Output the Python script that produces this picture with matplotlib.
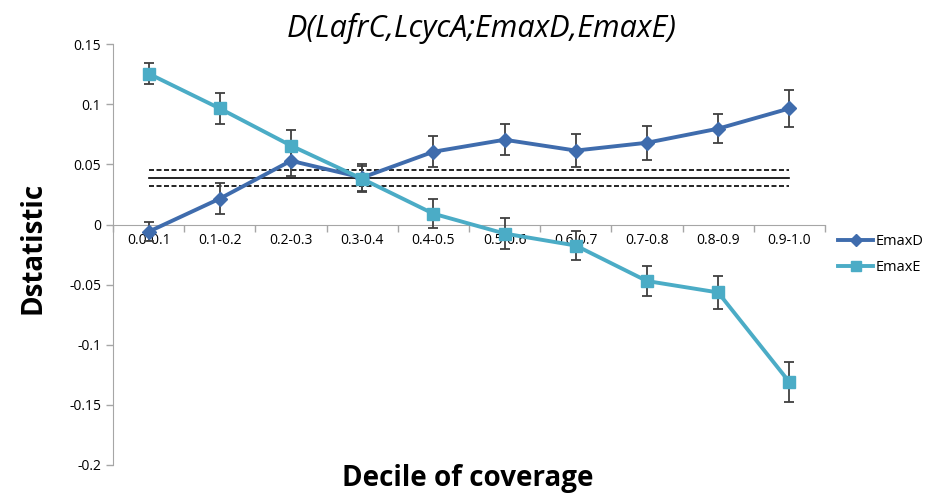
import matplotlib
matplotlib.use("Agg")
import matplotlib.pyplot as plt
from matplotlib.lines import Line2D
import numpy as np

categories = ["0.0-0.1", "0.1-0.2", "0.2-0.3", "0.3-0.4", "0.4-0.5",
              "0.5-0.6", "0.6-0.7", "0.7-0.8", "0.8-0.9", "0.9-1.0"]
emaxD = [-0.006, 0.0215, 0.053, 0.039, 0.0605, 0.0705, 0.0615, 0.068, 0.0797, 0.0965]
emaxD_err = [0.008, 0.013, 0.013, 0.011, 0.013, 0.013, 0.014, 0.014, 0.012, 0.015]
emaxE = [0.1255, 0.0965, 0.0656, 0.038, 0.009, -0.0075, -0.0175, -0.047, -0.0565, -0.131]
emaxE_err = [0.009, 0.013, 0.013, 0.011, 0.012, 0.013, 0.012, 0.0125, 0.014, 0.017]
ref_line = 0.039
ref_band = [0.0324, 0.0457]
yticks = [0.15, 0.1, 0.05, 0, -0.05, -0.1, -0.15, -0.2]
ytick_labels = ["0.15", "0.1", "0.05", "0", "-0.05", "-0.1", "-0.15", "-0.2"]

plt.rcParams['font.family'] = ['Open Sans', 'DejaVu Sans']

fig = plt.figure(figsize=(9.3, 4.96), dpi=100)
ax = fig.add_axes([0.1215, 0.0625, 0.7655, 0.8485])

x = np.arange(len(categories))
colD = '#3F6CAD'
colE = '#4BACC6'

ax.plot([x[0], x[-1]], [ref_line, ref_line], color='black', lw=1.2, zorder=1)
for v in ref_band:
    ax.plot([x[0], x[-1]], [v, v], color='black', lw=1.2, ls=(0, (3, 1.5)), zorder=1)

ax.errorbar(x, emaxD, yerr=emaxD_err, color=colD, lw=2.8, marker='D', ms=7,
            ecolor='#404040', elinewidth=1.3, capsize=3.5, capthick=1.3, zorder=3)
ax.errorbar(x, emaxE, yerr=emaxE_err, color=colE, lw=2.8, marker='s', ms=9,
            ecolor='#404040', elinewidth=1.3, capsize=3.5, capthick=1.3, zorder=3)

ax.set_xlim(-0.5, len(categories) - 0.5)
ax.set_ylim(-0.2, 0.15)
ax.set_yticks(yticks)
ax.set_yticklabels(ytick_labels, fontsize=10)

ax.spines['top'].set_visible(False)
ax.spines['right'].set_visible(False)
ax.spines['bottom'].set_position(('data', 0))
ax.spines['bottom'].set_color('#A6A6A6')
ax.spines['left'].set_color('#A6A6A6')
ax.tick_params(axis='y', colors='#A6A6A6', labelcolor='black', length=5, width=1)

ax.set_xticks(x)
ax.set_xticklabels(categories, fontsize=10)
ax.set_xticks(np.arange(len(categories) + 1) - 0.5, minor=True)
ax.tick_params(axis='x', which='major', length=0, pad=6)
ax.tick_params(axis='x', which='minor', length=5, width=1, colors='#A6A6A6', direction='out')

fig.text(0.518, 0.943, "D(LafrC,LcycA;EmaxD,EmaxE)", fontsize=22, style='italic',
         va='center', ha='center')
fig.text(0.035, 0.5, "Dstatistic", rotation=90, fontsize=20, fontweight='bold', va='center', ha='center')
fig.text(0.503, 0.035, "Decile of coverage", fontsize=20, fontweight='bold', va='center', ha='center')

handles = [Line2D([], [], color=colD, lw=2.8, marker='D', ms=6),
           Line2D([], [], color=colE, lw=2.8, marker='s', ms=7)]
ax.legend(handles, ['EmaxD', 'EmaxE'], loc='center left', bbox_to_anchor=(1.0, 0.5),
          frameon=False, fontsize=10.5, handlelength=2.4, handletextpad=0.2, labelspacing=0.75)

fig.savefig("out.png", dpi=100)
